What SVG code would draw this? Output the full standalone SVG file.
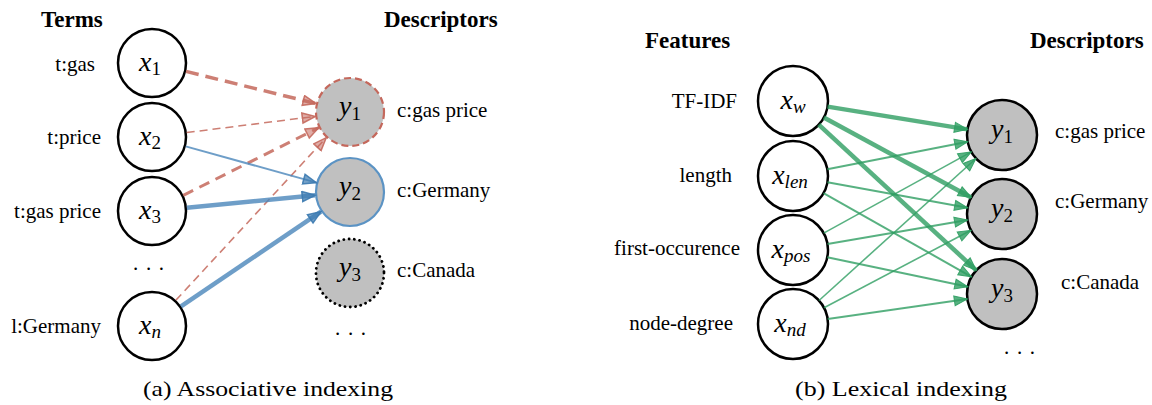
<svg xmlns="http://www.w3.org/2000/svg" width="1152" height="405" viewBox="0 0 1152 405">
<style>
.t{font-family:'Liberation Serif',serif !important}
.lbl{font-size:21px}
.hdr{font-size:23px;font-weight:bold}
.cap{font-size:22px}
.m{font-size:28px;font-style:italic}
.sub{font-size:19px;font-style:normal}
.subi{font-size:19px;font-style:italic}
.xn{fill:#fff;stroke:#000;stroke-width:2.5}
.yn{fill:#c0c0c0;stroke:#000;stroke-width:2.5}
.red{fill:none;stroke:#c4685c;stroke-opacity:0.85}
.blue{fill:none;stroke:#4a86ba;stroke-opacity:0.8}
.green{fill:none;stroke:#2e9e62;stroke-opacity:0.8}
</style>
<defs>
<marker id="ar" markerUnits="userSpaceOnUse" markerWidth="16" markerHeight="13" refX="14" refY="6" orient="auto">
<path d="M1,1 L14,6 L1,11 z" fill="#c4685c" fill-opacity="0.55" stroke="#c4685c" stroke-opacity="0.9" stroke-width="1.5"/>
</marker>
<marker id="ab" markerUnits="userSpaceOnUse" markerWidth="16" markerHeight="13" refX="14" refY="6" orient="auto">
<path d="M1,1 L14,6 L1,11 z" fill="#3c7ab0" fill-opacity="0.7" stroke="#3c7ab0" stroke-opacity="0.9" stroke-width="1.5"/>
</marker>
<marker id="ag" markerUnits="userSpaceOnUse" markerWidth="16" markerHeight="13" refX="14" refY="6" orient="auto">
<path d="M1,1 L14,6 L1,11 z" fill="#2e9e62" fill-opacity="0.8" stroke="#2e9e62" stroke-opacity="0.9" stroke-width="1"/>
</marker>
</defs>

<g id="headers-a">
<text class="t hdr" style="font-family:'Liberation Serif',serif" x="41" y="27">Terms</text>
<text class="t hdr" style="font-family:'Liberation Serif',serif" x="384" y="27">Descriptors</text>
</g>
<g id="labels-a">
<text class="t lbl" style="font-family:'Liberation Serif',serif" x="95" y="71" text-anchor="end">t:gas</text>
<text class="t lbl" style="font-family:'Liberation Serif',serif" x="101" y="144" text-anchor="end">t:price</text>
<text class="t lbl" style="font-family:'Liberation Serif',serif" x="101" y="218" text-anchor="end">t:gas price</text>
<text class="t lbl" style="font-family:'Liberation Serif',serif" x="101" y="333" text-anchor="end">l:Germany</text>
<text class="t lbl" style="font-family:'Liberation Serif',serif" x="397" y="117">c:gas price</text>
<text class="t lbl" style="font-family:'Liberation Serif',serif" x="397" y="197">c:Germany</text>
<text class="t lbl" style="font-family:'Liberation Serif',serif" x="397" y="277">c:Canada</text>
<text class="t lbl" style="font-family:'Liberation Serif',serif" x="133" y="270" textLength="31" lengthAdjust="spacing">. . .</text>
<text class="t lbl" style="font-family:'Liberation Serif',serif" x="335" y="335" textLength="31" lengthAdjust="spacing">. . .</text>
</g>

<g id="a-x1"><circle class="xn" cx="152" cy="63" r="34"/><text class="t m" style="font-family:'Liberation Serif',serif" x="150" y="71" text-anchor="middle">x<tspan class="sub" dy="4">1</tspan></text></g>
<g id="a-x2"><circle class="xn" cx="152" cy="137" r="34"/><text class="t m" style="font-family:'Liberation Serif',serif" x="150" y="145" text-anchor="middle">x<tspan class="sub" dy="4">2</tspan></text></g>
<g id="a-x3"><circle class="xn" cx="152" cy="211" r="34"/><text class="t m" style="font-family:'Liberation Serif',serif" x="150" y="219" text-anchor="middle">x<tspan class="sub" dy="4">3</tspan></text></g>
<g id="a-xn"><circle class="xn" cx="152" cy="326" r="34"/><text class="t m" style="font-family:'Liberation Serif',serif" x="150" y="334" text-anchor="middle">x<tspan class="subi" dy="4">n</tspan></text></g>

<g id="a-y1"><circle cx="350" cy="112" r="34" fill="#c0c0c0" stroke="#c4685c" stroke-width="2.2" stroke-dasharray="7 4"/><text class="t m" style="font-family:'Liberation Serif',serif" x="350" y="115" text-anchor="middle">y<tspan class="sub" dy="5">1</tspan></text></g>
<g id="a-y2"><circle cx="350" cy="192" r="34" fill="#c0c0c0" stroke="#5b93c4" stroke-width="2.2"/><text class="t m" style="font-family:'Liberation Serif',serif" x="350" y="195" text-anchor="middle">y<tspan class="sub" dy="5">2</tspan></text></g>
<g id="a-y3"><circle cx="350" cy="273" r="34" fill="#c0c0c0" stroke="#000" stroke-width="2.8" stroke-dasharray="0.1 5.2" stroke-linecap="round"/><text class="t m" style="font-family:'Liberation Serif',serif" x="350" y="276" text-anchor="middle">y<tspan class="sub" dy="5">3</tspan></text></g>

<g id="connectors-a">
<path class="red" d="M186,71.4 L316,103.6" stroke-width="3.5" stroke-dasharray="13 7" marker-end="url(#ar)"/>
<path class="red" d="M186.7,132.6 L315.3,116.4" stroke-width="1.5" stroke-dasharray="8 5" marker-end="url(#ar)"/>
<path class="red" d="M183.3,195.3 L318.7,127.7" stroke-width="3" stroke-dasharray="11 7" marker-end="url(#ar)"/>
<path class="red" d="M175.8,300.3 L326.2,137.7" stroke-width="1.6" stroke-dasharray="8 5" marker-end="url(#ar)"/>
<path class="blue" d="M185.7,146.4 L316.3,182.6" stroke-width="2" marker-end="url(#ab)"/>
<path class="blue" d="M186.8,207.7 L315.2,195.3" stroke-width="4.5" marker-end="url(#ab)"/>
<path class="blue" d="M181,306.4 L321,211.6" stroke-width="4.5" marker-end="url(#ab)"/>
</g>

<text class="t cap" style="font-family:'Liberation Serif',serif" x="143" y="396" textLength="250" lengthAdjust="spacingAndGlyphs">(a) Associative indexing</text>

<g id="headers-b">
<text class="t hdr" style="font-family:'Liberation Serif',serif" x="645" y="48">Features</text>
<text class="t hdr" style="font-family:'Liberation Serif',serif" x="1030" y="48">Descriptors</text>
</g>
<g id="labels-b">
<text class="t lbl" style="font-family:'Liberation Serif',serif" x="737" y="108" text-anchor="end">TF-IDF</text>
<text class="t lbl" style="font-family:'Liberation Serif',serif" x="732" y="182" text-anchor="end">length</text>
<text class="t lbl" style="font-family:'Liberation Serif',serif" x="740" y="255" text-anchor="end">first-occurence</text>
<text class="t lbl" style="font-family:'Liberation Serif',serif" x="733" y="330" text-anchor="end">node-degree</text>
<text class="t lbl" style="font-family:'Liberation Serif',serif" x="1055" y="138">c:gas price</text>
<text class="t lbl" style="font-family:'Liberation Serif',serif" x="1055" y="208">c:Germany</text>
<text class="t lbl" style="font-family:'Liberation Serif',serif" x="1061" y="289">c:Canada</text>
<text class="t lbl" style="font-family:'Liberation Serif',serif" x="1004" y="354" textLength="31" lengthAdjust="spacing">. . .</text>
</g>

<g id="b-xw"><circle class="xn" cx="793" cy="101" r="35"/><text class="t m" style="font-family:'Liberation Serif',serif" x="793" y="109" text-anchor="middle">x<tspan class="subi" dy="4">w</tspan></text></g>
<g id="b-xlen"><circle class="xn" cx="793" cy="176" r="35"/><text class="t m" style="font-family:'Liberation Serif',serif" x="790" y="184" text-anchor="middle">x<tspan class="subi" dy="4">len</tspan></text></g>
<g id="b-xpos"><circle class="xn" cx="793" cy="250" r="35"/><text class="t m" style="font-family:'Liberation Serif',serif" x="791" y="258" text-anchor="middle">x<tspan class="subi" dy="4">pos</tspan></text></g>
<g id="b-xnd"><circle class="xn" cx="793" cy="324" r="35"/><text class="t m" style="font-family:'Liberation Serif',serif" x="790" y="332" text-anchor="middle">x<tspan class="subi" dy="4">nd</tspan></text></g>

<g id="b-y1"><circle class="yn" cx="1002" cy="135" r="35"/><text class="t m" style="font-family:'Liberation Serif',serif" x="1002" y="138" text-anchor="middle">y<tspan class="sub" dy="5">1</tspan></text></g>
<g id="b-y2"><circle class="yn" cx="1002" cy="214" r="35"/><text class="t m" style="font-family:'Liberation Serif',serif" x="1002" y="217" text-anchor="middle">y<tspan class="sub" dy="5">2</tspan></text></g>
<g id="b-y3"><circle class="yn" cx="1002" cy="294" r="35"/><text class="t m" style="font-family:'Liberation Serif',serif" x="1002" y="297" text-anchor="middle">y<tspan class="sub" dy="5">3</tspan></text></g>

<g id="connectors-b">
<path class="green" d="M827.5,106.6 L967.5,129.4" stroke-width="4.5" marker-end="url(#ag)"/>
<path class="green" d="M823.8,117.6 L971.2,197.4" stroke-width="4.5" marker-end="url(#ag)"/>
<path class="green" d="M818.7,124.7 L976.3,270.3" stroke-width="4.5" marker-end="url(#ag)"/>
<path class="green" d="M827.3,169.3 L967.7,141.7" stroke-width="2" marker-end="url(#ag)"/>
<path class="green" d="M827.4,182.3 L967.6,207.7" stroke-width="2" marker-end="url(#ag)"/>
<path class="green" d="M823.5,193.2 L971.5,276.8" stroke-width="2" marker-end="url(#ag)"/>
<path class="green" d="M823.7,233.1 L971.3,151.9" stroke-width="1.6" marker-end="url(#ag)"/>
<path class="green" d="M827.5,244.1 L967.5,219.9" stroke-width="2" marker-end="url(#ag)"/>
<path class="green" d="M827.2,257.2 L967.8,286.8" stroke-width="2" marker-end="url(#ag)"/>
<path class="green" d="M819,300.5 L976,158.5" stroke-width="1.6" marker-end="url(#ag)"/>
<path class="green" d="M824,307.7 L971,230.3" stroke-width="1.6" marker-end="url(#ag)"/>
<path class="green" d="M827.7,319 L967.3,299" stroke-width="2" marker-end="url(#ag)"/>
</g>

<text class="t cap" style="font-family:'Liberation Serif',serif" x="795" y="396" textLength="212" lengthAdjust="spacingAndGlyphs">(b) Lexical indexing</text>
</svg>
